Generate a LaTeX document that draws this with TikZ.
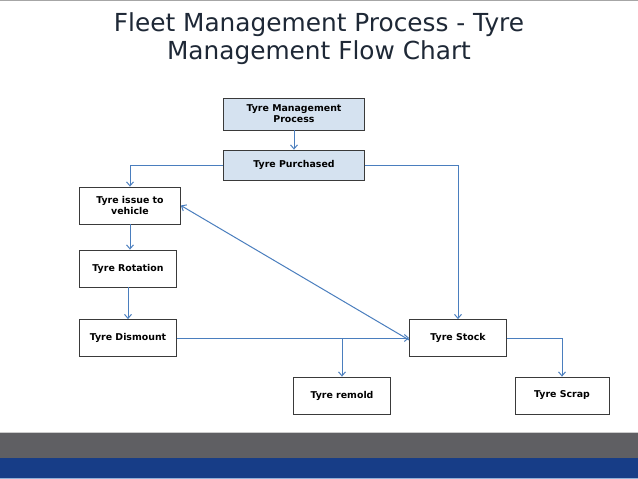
\documentclass[tikz,border=0pt]{standalone}
\usepackage{fontspec}
\setmainfont{DejaVu Sans}
\usetikzlibrary{arrows.meta}
\definecolor{connblue}{HTML}{4A7EBE}
\definecolor{boxfill}{HTML}{D5E2F0}
\definecolor{boxline}{HTML}{3A3A3A}
\definecolor{titlecol}{HTML}{1E2836}
\definecolor{bandgray}{HTML}{5F5F63}
\definecolor{bandblue}{HTML}{173D87}
\tikzset{
  stepbox/.style={draw=boxline, line width=0.8pt, fill=white, inner sep=0pt, align=center,
    font=\fontsize{9.4}{11}\selectfont\bfseries, text=black},
  bluebox/.style={stepbox, fill=boxfill},
  link/.style={draw=connblue, line width=1pt, -{Straight Barb[length=4pt,width=7pt]}}
}
\begin{document}
\begin{tikzpicture}[x=1pt,y=-1pt]
\useasboundingbox (0,0) rectangle (638,479);
\fill[white] (0,0) rectangle (638,479);
\draw[gray!70, line width=1pt] (0,0.5) -- (638,0.5);
% bands
\fill[gray!40] (0,431.5) rectangle (638,433);
\fill[bandgray] (0,433) rectangle (638,458);
\fill[bandblue] (0,458) rectangle (638,478);
\fill[connblue!60] (0,478) rectangle (638,479);
% title
\node[text=titlecol, font=\fontsize{24.8}{28}\selectfont, align=center] (title) at (319,39)
  {Fleet Management Process - Tyre\\Management Flow Chart};
% boxes
\node[bluebox, minimum width=141pt, minimum height=32pt] (tmp) at (294,114) {Tyre Management\\Process};
\node[bluebox, minimum width=141pt, minimum height=30pt] (tp) at (294,165) {Tyre Purchased};
\node[stepbox, minimum width=101pt, minimum height=37pt] (issue) at (130,205.5) {Tyre issue to\\vehicle};
\node[stepbox, minimum width=97pt, minimum height=37pt] (rot) at (128,268.5) {Tyre Rotation};
\node[stepbox, minimum width=97pt, minimum height=37pt] (dis) at (128,338) {Tyre Dismount};
\node[stepbox, minimum width=97pt, minimum height=37pt] (stock) at (458,338) {Tyre Stock};
\node[stepbox, minimum width=97pt, minimum height=37pt] (remold) at (342,395.5) {Tyre remold};
\node[stepbox, minimum width=94pt, minimum height=37pt] (scrap) at (562,395.5) {Tyre Scrap};
% connectors
\coordinate (c1) at (issue.north |- tp.west);
\coordinate (c2) at (stock.north |- tp.east);
\draw[link] (tmp.south) -- (tp.north);
\draw[link] (tp.west) -- (c1) -- (issue.north);
\draw[link] (tp.east) -- (c2) -- (stock.north);
\draw[link] (issue.south) -- (issue.south |- rot.north);
\draw[link] (rot.south) -- (dis.north);
\draw[link] (dis.east) -- (stock.west);
\coordinate (rm) at (remold.north |- dis.east);
\draw[link] (rm) -- (remold.north);
\draw[link] ([yshift=-2pt]stock.west) -- (issue.east);
\draw[link] (stock.east) -| (scrap.north);
\end{tikzpicture}
\end{document}
